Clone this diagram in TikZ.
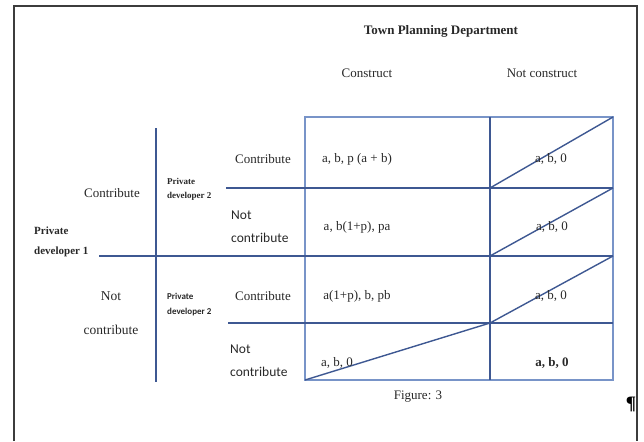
\documentclass[tikz,border=0pt]{standalone}
\usepackage{fontspec}
\setmainfont{Liberation Serif}
\newfontfamily\carlfont{Carlito}
\definecolor{gridblue}{RGB}{62,88,146}
\definecolor{edgeblue}{RGB}{120,148,200}
\definecolor{framegray}{RGB}{60,60,60}
\definecolor{txt}{RGB}{40,40,40}
\begin{document}
\begin{tikzpicture}[x=1pt,y=-1pt,
  gridline/.style={draw=gridblue,line width=1.4pt},
  outerline/.style={draw=edgeblue,line width=2.2pt},
  frameline/.style={draw=framegray,line width=1.6pt},
  lbl/.style={inner sep=0pt,text=txt,font=\fontsize{13}{15}\selectfont},
  sanslbl/.style={inner sep=0pt,text=txt,align=left,anchor=west,font=\carlfont\fontsize{13.5}{23}\selectfont},
  smallbold/.style={inner sep=0pt,text=txt,align=left,anchor=west,font=\bfseries\fontsize{9}{14.5}\selectfont}]
\useasboundingbox (0,0) rectangle (644,441);
% page frame
\draw[frameline] (14,441) -- (14,6) -- (637,6) -- (637,441);
% table corners
\coordinate (tl) at (305,117);
\coordinate (tm) at (490,117);
\coordinate (tr) at (613,117);
\coordinate (bl) at (305,380);
\coordinate (bm) at (490,380);
\coordinate (br) at (613,380);
\coordinate (m1) at (490,188);
\coordinate (r1) at (613,188);
\coordinate (l1) at (226,188);
\coordinate (m2) at (490,256);
\coordinate (r2) at (613,256);
\coordinate (l2) at (99,256);
\coordinate (m3) at (490,323);
\coordinate (r3) at (613,323);
\coordinate (l3) at (228,323);
\coordinate (vt) at (156,128);
\coordinate (vb) at (156,382);
% grid
\draw[outerline] (tl) rectangle (br);
\draw[gridline] (tm) -- (bm);
\draw[gridline] (l1) -- (r1);
\draw[gridline] (l2) -- (r2);
\draw[gridline] (l3) -- (r3);
\draw[gridline] (vt) -- (vb);
% strike lines
\draw[gridline] (m1) -- (tr);
\draw[gridline] (m2) -- (r1);
\draw[gridline] (m3) -- (r2);
\draw[gridline] (bl) -- (m3);
% headings
\node[lbl,font=\bfseries\fontsize{13}{15}\selectfont] (title) at (441,31) {Town Planning Department};
\node[lbl] (hc) at (367,73) {Construct};
\node[lbl] (hn) at (542,73) {Not construct};
% row 1
\node[lbl] (r1c) at (263,159) {Contribute};
\node[lbl] (p11) at (357,159) {a, b, p (a + b)};
\node[lbl] (p12) at (551,159) {a, b, 0};
% row 2
\node[sanslbl] (r2n) at (231,227) {Not\\contribute};
\node[lbl] (p21) at (357,227) {a, b(1+p), pa};
\node[lbl] (p22) at (552,227) {a, b, 0};
% row 3
\node[lbl] (r3c) at (263,296) {Contribute};
\node[lbl] (p31) at (357,296) {a(1+p), b, pb};
\node[lbl] (p32) at (551,296) {a, b, 0};
% row 4
\node[sanslbl] (r4n) at (230,361) {Not\\contribute};
\node[lbl] (p41) at (337,363) {a, b, 0};
\node[lbl,font=\bfseries\fontsize{13}{15}\selectfont] (p42) at (552,363) {a, b, 0};
% left side
\node[lbl] (c1) at (112,193) {Contribute};
\node[smallbold] (pd2a) at (167,189.5) {Private\\developer 2};
\node[smallbold,font=\bfseries\fontsize{11}{20}\selectfont] (pd1) at (34,242) {Private\\developer 1};
\node[lbl,align=center,font=\fontsize{13.5}{34}\selectfont] (nc1) at (111,313) {Not\\contribute};
\node[smallbold,font=\carlfont\bfseries\fontsize{9}{15}\selectfont] (pd2b) at (167,305) {Private\\developer 2};
% caption
\node[lbl] (fig) at (418,397) {Figure: 3};
\node[inner sep=0pt,font=\bfseries\fontsize{19}{19}\selectfont] (pil) at (631,404) {¶};
\end{tikzpicture}
\end{document}
